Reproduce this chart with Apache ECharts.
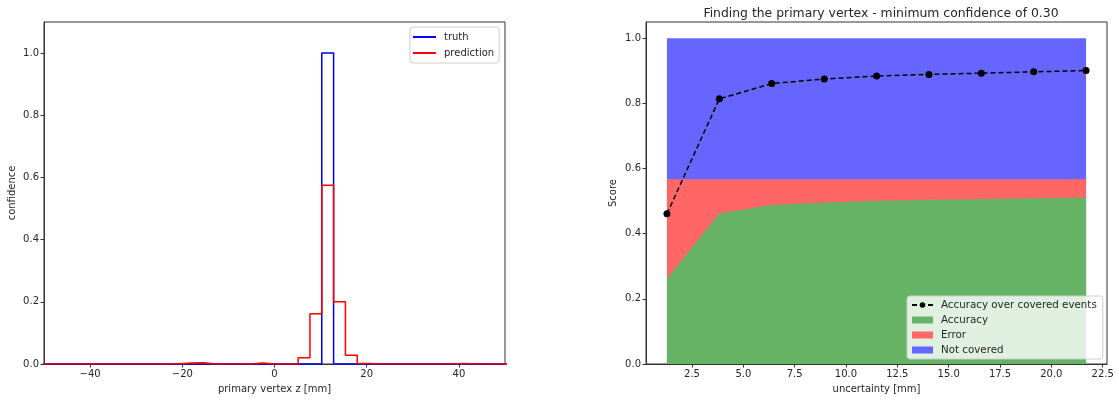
<!DOCTYPE html>
<html>
<head>
<meta charset="utf-8">
<script src="https://cdn.jsdelivr.net/npm/echarts@6/dist/echarts.min.js"></script>
<style>
    html, body { margin: 0; padding: 0; background: #fff; }
    #chart { width: 1119px; height: 400px; }
</style>
</head>
<body>
<div id="chart"></div>
<script>
// left panel: histogram of primary vertex z (40 bins)
var firstEdge = -51.28;
var binWidth = 2.564;
var truth = [
    0, 0, 0, 0, 0, 0, 0, 0, 0, 0,
    0, 0, 0, 0, 0, 0, 0, 0, 0, 0,
    0, 0, 0, 0, 1.0, 0, 0, 0, 0, 0,
    0, 0, 0, 0, 0, 0, 0, 0, 0, 0
];
var prediction = [
    0, 0, 0, 0, 0, 0, 0, 0, 0, 0,
    0, 0.001, 0.003, 0.004, 0, 0, 0, 0, 0.003, 0,
    0, 0, 0.02, 0.162, 0.575, 0.2, 0.028, 0.002, 0, 0,
    0, 0, 0, 0, 0, 0.002, 0, 0, 0, 0
];
var leftXTicks = [-40, -20, 0, 20, 40];
var leftYTicks = [0, 0.2, 0.4, 0.6, 0.8, 1.0];

// right panel: score vs uncertainty
var uncertainty = [1.28, 3.83, 6.38, 8.94, 11.49, 14.04, 16.59, 19.14, 21.69];
var accuracy = [0.262, 0.462, 0.488, 0.496, 0.501, 0.504, 0.506, 0.509, 0.511];
var covered = [0.567, 0.567, 0.567, 0.567, 0.567, 0.567, 0.567, 0.567, 0.567];
var accCovered = [0.461, 0.814, 0.861, 0.875, 0.884, 0.889, 0.893, 0.897, 0.901];
var rightXTicks = [2.5, 5.0, 7.5, 10.0, 12.5, 15.0, 17.5, 20.0, 22.5];
var rightYTicks = [0, 0.2, 0.4, 0.6, 0.8, 1.0];

var font = 'DejaVu Sans';
var ink = '#262626';

function stepPoints(vals) {
    var pts = [[firstEdge, 0]];
    for (var i = 0; i < vals.length; i++) {
        var a = firstEdge + i * binWidth;
        pts.push([a, vals[i]], [a + binWidth, vals[i]]);
    }
    pts.push([firstEdge + vals.length * binWidth, 0]);
    return pts;
}

function pairs(xs, ys) {
    return xs.map(function(x, i) { return [x, ys[i]]; });
}

function axis(extra) {
    var base = {
        type: 'value',
        nameLocation: 'middle',
        nameTextStyle: { fontFamily: font, fontSize: 10, color: ink },
        axisLine: { show: true, onZero: false, lineStyle: { color: '#333', width: 1 } },
        axisTick: { show: true, length: 3.5, lineStyle: { color: '#333' } },
        axisLabel: { fontFamily: font, fontSize: 10, color: ink, margin: 5 },
        splitLine: { show: false }
    };
    for (var k in extra) {
        if (typeof extra[k] === 'object' && base[k] && !Array.isArray(extra[k])) {
            base[k] = Object.assign({}, base[k], extra[k]);
        } else {
            base[k] = extra[k];
        }
    }
    return base;
}

// stackplot: each band drawn from 0 up to its cumulative top, upper bands first
var total = covered.map(function() { return 1.0; });

var myChart = echarts.init(document.getElementById('chart'), null, { renderer: 'canvas' });

var option = {
    animation: false,
    backgroundColor: '#fff',
    textStyle: { fontFamily: font },
    title: {
        text: 'Finding the primary vertex - minimum confidence of 0.30',
        left: 876,
        top: 3,
        textAlign: 'center',
        textStyle: { fontFamily: font, fontSize: 12.4, fontWeight: 'normal', color: ink }
    },
    grid: [
        { left: 44, top: 22, width: 461, height: 342, show: true, borderColor: '#333', borderWidth: 1 },
        { left: 646, top: 22, width: 461, height: 342, show: true, borderColor: '#333', borderWidth: 1 }
    ],
    xAxis: [
        axis({
            gridIndex: 0, min: -50, max: 50,
            name: 'primary vertex z [mm]', nameGap: 20,
            axisTick: { customValues: leftXTicks },
            axisLabel: { customValues: leftXTicks, formatter: function(v) { return String(v).replace('-', '\u2212'); } }
        }),
        axis({
            gridIndex: 1, min: 0.26, max: 22.71,
            name: 'uncertainty [mm]', nameGap: 20,
            axisTick: { customValues: rightXTicks },
            axisLabel: { customValues: rightXTicks, formatter: function(v) { return v.toFixed(1); } }
        })
    ],
    yAxis: [
        axis({
            gridIndex: 0, min: 0, max: 1.1,
            name: 'confidence', nameGap: 27,
            axisTick: { customValues: leftYTicks },
            axisLabel: { customValues: leftYTicks, formatter: function(v) { return v.toFixed(1); } }
        }),
        axis({
            gridIndex: 1, min: 0, max: 1.05,
            name: 'Score', nameGap: 28,
            axisTick: { customValues: rightYTicks },
            axisLabel: { customValues: rightYTicks, formatter: function(v) { return v.toFixed(1); } }
        })
    ],
    legend: [
        {
            left: 410, top: 27,
            orient: 'vertical',
            padding: [4, 5, 4, 3],
            icon: 'rect',
            itemWidth: 23, itemHeight: 2, itemGap: 4,
            backgroundColor: 'rgba(255,255,255,0.8)',
            borderColor: '#ccc', borderWidth: 1, borderRadius: 3,
            textStyle: { fontFamily: font, fontSize: 10, color: ink, padding: [0, 0, 0, 3], lineHeight: 12 },
            data: ['truth', 'prediction']
        },
        {
            left: 907, top: 296,
            orient: 'vertical',
            padding: [3, 6, 3, 4],
            itemWidth: 21, itemHeight: 7, itemGap: 3,
            backgroundColor: 'rgba(255,255,255,0.8)',
            borderColor: '#ccc', borderWidth: 1, borderRadius: 3,
            textStyle: { fontFamily: font, fontSize: 10.3, color: ink, padding: [0, 0, 0, 3], lineHeight: 12 },
            data: [
                { name: 'Accuracy over covered events' },
                { name: 'Accuracy', icon: 'rect' },
                { name: 'Error', icon: 'rect' },
                { name: 'Not covered', icon: 'rect' }
            ]
        }
    ],
    series: [
        {
            name: 'truth', type: 'line', xAxisIndex: 0, yAxisIndex: 0,
            data: stepPoints(truth), symbol: 'none', color: '#0000ff',
            lineStyle: { width: 1.5, color: '#0000ff' }, z: 2
        },
        {
            name: 'prediction', type: 'line', xAxisIndex: 0, yAxisIndex: 0,
            data: stepPoints(prediction), symbol: 'none', color: '#ff0000',
            lineStyle: { width: 1.5, color: '#ff0000' }, z: 3
        },
        {
            name: 'Not covered', type: 'line', xAxisIndex: 1, yAxisIndex: 1,
            data: pairs(uncertainty, total), symbol: 'none', color: '#6666ff',
            lineStyle: { width: 0 }, areaStyle: { color: '#6666ff', opacity: 1 }, z: 1
        },
        {
            name: 'Error', type: 'line', xAxisIndex: 1, yAxisIndex: 1,
            data: pairs(uncertainty, covered), symbol: 'none', color: '#ff6666',
            lineStyle: { width: 0 }, areaStyle: { color: '#ff6666', opacity: 1 }, z: 2
        },
        {
            name: 'Accuracy', type: 'line', xAxisIndex: 1, yAxisIndex: 1,
            data: pairs(uncertainty, accuracy), symbol: 'none', color: '#66b366',
            lineStyle: { width: 0 }, areaStyle: { color: '#66b366', opacity: 1 }, z: 3
        },
        {
            name: 'Accuracy over covered events', type: 'line', xAxisIndex: 1, yAxisIndex: 1,
            data: pairs(uncertainty, accCovered), symbol: 'circle', symbolSize: 7,
            color: '#000', itemStyle: { color: '#000' },
            lineStyle: { width: 1.5, color: '#000', type: [5, 3] }, z: 4
        }
    ]
};

myChart.setOption(option);
</script>
</body>
</html>
